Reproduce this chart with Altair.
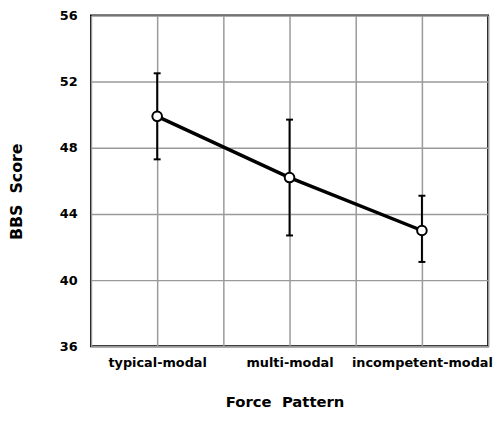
import altair as alt
import pandas as pd

categories = ["typical-modal", "multi-modal", "incompetent-modal"]
positions = [1, 3, 5]
means = [49.9, 46.2, 43.0]
upper = [52.5, 49.7, 45.1]
lower = [47.3, 42.7, 41.1]
y_ticks = [36, 40, 44, 48, 52, 56]
x_grid = [0, 1, 2, 3, 4, 5, 6]

df = pd.DataFrame({"cat": categories, "pos": positions, "mean": means,
                   "hi": upper, "lo": lower})

label_expr = " : ".join(
    f"datum.value == {p} ? '{c}'" for p, c in zip(positions, categories)
) + " : ''"

X = alt.X(
    "pos:Q",
    scale=alt.Scale(domain=[0, 6], nice=False),
    axis=alt.Axis(
        values=x_grid, labelExpr=label_expr, grid=True, ticks=False, tickSize=0,
        domain=False, labelPadding=10, labelFontSize=13,
        title="Force\u00a0\u00a0Pattern", titleX=196, titleY=56,
        titleBaseline="middle", titleAlign="center", titleFontSize=15,
    ),
)

def Y(field):
    return alt.Y(
        field,
        scale=alt.Scale(domain=[36, 56], nice=False),
        axis=alt.Axis(
            values=y_ticks, grid=True, ticks=False, tickSize=0, domain=False,
            labelPadding=14, labelFontSize=13,
            title="BBS\u00a0\u00a0Score", titleX=-75, titleY=178, titleAngle=270,
            titleBaseline="middle", titleAlign="center", titleFontSize=16,
        ),
    )

base = alt.Chart(df).encode(x=X)

rule = base.mark_rule(color="black", strokeWidth=2).encode(y=Y("lo:Q"), y2="hi:Q")
cap_hi = base.mark_tick(orient="horizontal", size=7, thickness=2, color="black", opacity=1).encode(y=Y("hi:Q"))
cap_lo = base.mark_tick(orient="horizontal", size=7, thickness=2, color="black", opacity=1).encode(y=Y("lo:Q"))
line = base.mark_line(color="black", strokeWidth=3.5).encode(y=Y("mean:Q"))
pts = base.mark_point(shape="circle", size=95, filled=False, fill="white",
                      stroke="black", strokeWidth=2, opacity=1, fillOpacity=1).encode(y=Y("mean:Q"))

chart = alt.layer(rule, cap_hi, cap_lo, line, pts).properties(
    width=402, height=335,
    autosize=alt.AutoSizeParams(type="none"),
    padding={"left": 84, "top": 5, "right": 8, "bottom": 63},
    background="white",
).configure_view(
    stroke="black", strokeWidth=2
).configure_axis(
    gridColor="#9a9a9a", gridWidth=1.5, gridOpacity=1,
    labelFont="DejaVu Sans", labelFontWeight="bold", labelColor="black",
    titleFont="DejaVu Sans", titleFontWeight="bold", titleColor="black",
)

chart.save("out.html", embed_options={"renderer": "svg", "actions": False})
